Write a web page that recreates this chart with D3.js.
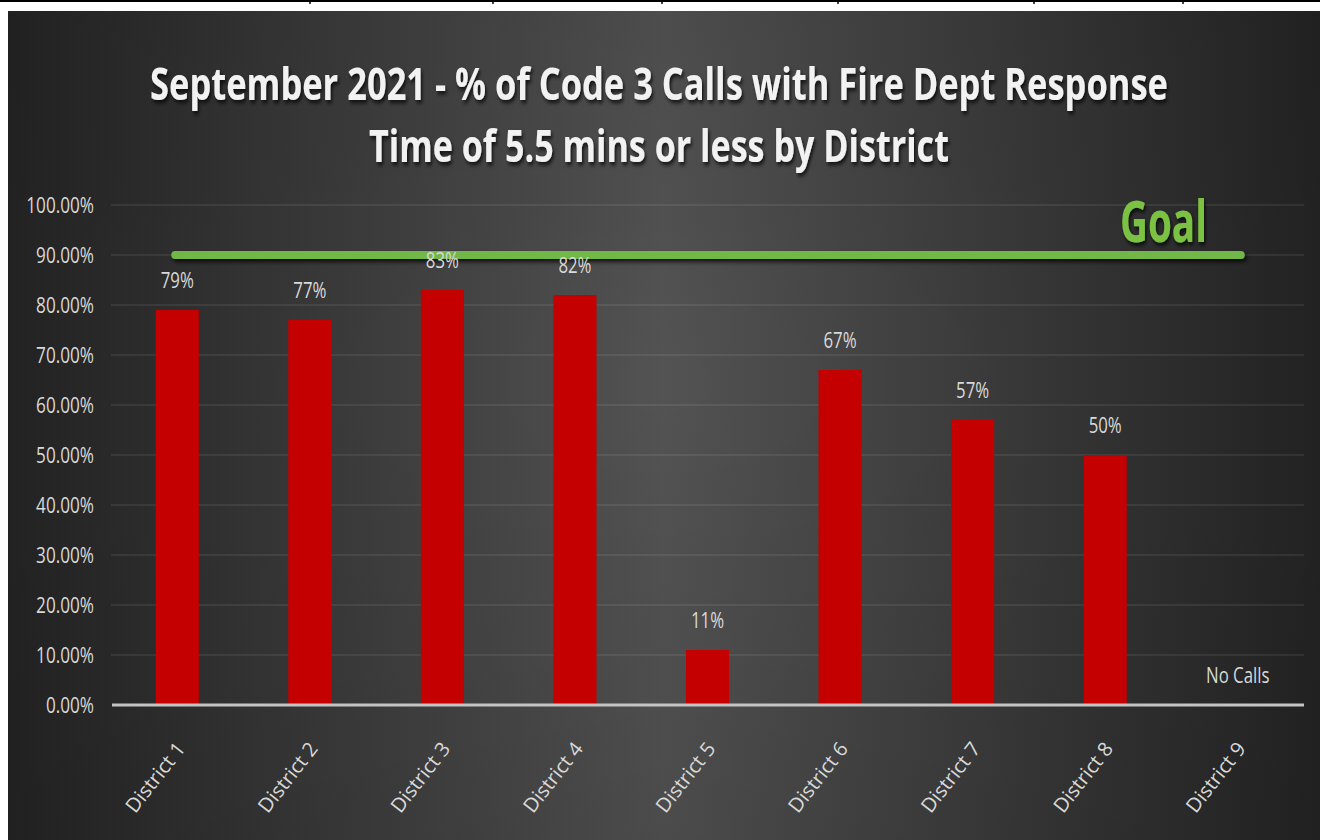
<!DOCTYPE html>
<html>
<head>
<meta charset="utf-8">
<script src="https://cdn.jsdelivr.net/npm/d3@7"></script>
<style>
  html, body { margin: 0; padding: 0; background: #ffffff; }
  svg { display: block; }
</style>
</head>
<body>
<svg id="chart" width="1320" height="840"></svg>
<script>
const categories = ["District 1","District 2","District 3","District 4","District 5","District 6","District 7","District 8","District 9"];
const values = [79, 77, 83, 82, 11, 67, 57, 50, null];
const valueLabels = ["79%","77%","83%","82%","11%","67%","57%","50%","No Calls"];
const yTicks = [0,10,20,30,40,50,60,70,80,90,100];
const goalValue = 90;
const goalLabel = "Goal";
const titleLines = ["September 2021 - % of Code 3 Calls with Fire Dept Response", "Time of 5.5 mins or less by District"];

const svg = d3.select("#chart");
const W = 1320, H = 840;
const defs = svg.append("defs");

const grad = defs.append("linearGradient").attr("id","bg").attr("x1","0").attr("x2","1").attr("y1","0").attr("y2","0");
grad.append("stop").attr("offset","0").attr("stop-color","#252525");
grad.append("stop").attr("offset","0.5").attr("stop-color","#535353");
grad.append("stop").attr("offset","1").attr("stop-color","#252525");

const rg = defs.append("radialGradient").attr("id","vig").attr("cx","0.5").attr("cy","0.45").attr("r","0.7");
rg.append("stop").attr("offset","0").attr("stop-color","#000").attr("stop-opacity",0);
rg.append("stop").attr("offset","1").attr("stop-color","#000").attr("stop-opacity",0.12);

const sh = defs.append("filter").attr("id","shadow").attr("filterUnits","userSpaceOnUse")
  .attr("x",-2000).attr("y",-2000).attr("width",6000).attr("height",6000);
sh.append("feDropShadow").attr("dx",2).attr("dy",3).attr("stdDeviation",2).attr("flood-color","#000").attr("flood-opacity",0.75);

// page decoration (white strip with table borders)
svg.append("rect").attr("x",0).attr("y",0).attr("width",W).attr("height",H).attr("fill","#ffffff");
svg.append("line").attr("x1",0).attr("x2",W).attr("y1",1).attr("y2",1).attr("stroke","#000").attr("stroke-width",2);
[310,493,662,838,1034,1183].forEach(x=>{
  svg.append("line").attr("x1",x).attr("x2",x).attr("y1",0).attr("y2",4).attr("stroke","#000").attr("stroke-width",1.5);
});

// chart background
svg.append("rect").attr("x",8).attr("y",11).attr("width",W-8).attr("height",H-11).attr("fill","url(#bg)");
svg.append("rect").attr("x",8).attr("y",11).attr("width",W-8).attr("height",H-11).attr("fill","url(#vig)");

const plot = {left:111, right:1304, top:205, bottom:705};

const x = d3.scaleBand().domain(categories).range([plot.left, plot.right]).paddingInner(0.675).paddingOuter(0.3375);
const y = d3.scaleLinear().domain([0,100]).range([plot.bottom, plot.top]);

// gridlines
svg.append("g").selectAll("line").data(yTicks.filter(d=>d>0)).join("line")
  .attr("x1",plot.left).attr("x2",plot.right)
  .attr("y1",d=>y(d)).attr("y2",d=>y(d))
  .attr("stroke","rgba(255,255,255,0.14)").attr("stroke-width",1.2);

// y labels
svg.append("g").selectAll("text").data(yTicks).join("text")
  .attr("transform",d=>`translate(94,${y(d)+8}) scale(0.78,1)`)
  .attr("text-anchor","end")
  .attr("font-family","Open Sans, sans-serif").attr("font-size",22)
  .attr("fill","#d9d9d9")
  .text(d=>d.toFixed(2)+"%");

// bars
svg.append("g").selectAll("rect").data(categories.map((c,i)=>({c,v:values[i]})).filter(d=>d.v!=null)).join("rect")
  .attr("x",d=>x(d.c)).attr("width",x.bandwidth())
  .attr("y",d=>y(d.v)).attr("height",d=>y(0)-y(d.v))
  .attr("fill","#c40000");

// axis line
svg.append("line").attr("x1",plot.left+1).attr("x2",plot.right).attr("y1",y(0)).attr("y2",y(0))
  .attr("stroke","#c4c4c4").attr("stroke-width",3);

// goal line
const gx1 = x(categories[0])+x.bandwidth()/2 - 2;
const gx2 = x(categories[categories.length-1])+x.bandwidth()/2 + 3;
svg.append("line").attr("x1",gx1).attr("x2",gx2).attr("y1",y(goalValue)).attr("y2",y(goalValue))
  .attr("stroke","#72b84a").attr("stroke-width",8).attr("stroke-linecap","round")
  .attr("filter","url(#shadow)");

// data labels (drawn above the goal line)
svg.append("g").selectAll("text").data(categories.map((c,i)=>({c,v:values[i],l:valueLabels[i]}))).join("text")
  .attr("transform",d=>`translate(${x(d.c)+x.bandwidth()/2},${y(d.v==null?0:d.v)-22}) scale(0.8,1)`)
  .attr("text-anchor","middle")
  .attr("font-family","Open Sans, sans-serif").attr("font-size",21)
  .attr("fill","#d9d9d9")
  .text(d=>d.l);

// x labels
svg.append("g").selectAll("text").data(categories).join("text")
  .attr("transform",d=>`translate(${x(d)+x.bandwidth()/2+9},749) rotate(-52)`)
  .attr("text-anchor","end")
  .attr("font-family","Open Sans, sans-serif").attr("font-size",20)
  .attr("fill","#d9d9d9")
  .text(d=>d);

// helper: fit text to a width by horizontal scaling
function fitText(sel, cx, yb, w, anchor) {
  const n = sel.node();
  const nat = n.getComputedTextLength();
  const sx = w / nat;
  sel.attr("text-anchor", anchor).attr("transform", `translate(${cx},${yb}) scale(${sx},1)`);
}

const goal = svg.append("text")
  .attr("font-family","Open Sans, sans-serif").attr("font-weight","bold").attr("font-size",58)
  .attr("fill","#7cc242").attr("filter","url(#shadow)")
  .text(goalLabel);
fitText(goal, 1120, y(goalValue)-13, 87, "start");

// title
const tl = [{t:titleLines[0], yb:100, w:1018},{t:titleLines[1], yb:162, w:580}];
tl.forEach(d=>{
  const t = svg.append("text")
    .attr("font-family","Open Sans, sans-serif").attr("font-weight","bold").attr("font-size",45)
    .attr("fill","#f2f2f2").attr("filter","url(#shadow)")
    .text(d.t);
  fitText(t, 659, d.yb, d.w, "middle");
});
</script>
</body>
</html>
